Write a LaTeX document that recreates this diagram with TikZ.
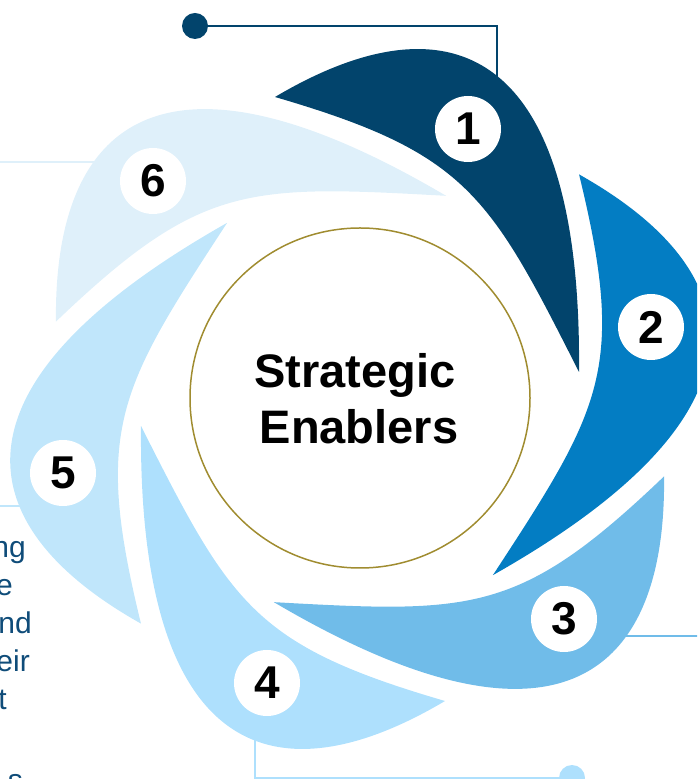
\documentclass[tikz,border=0pt]{standalone}
\usepackage{fontspec}
\setmainfont{Liberation Sans}

\definecolor{petalA}{HTML}{02446C}
\definecolor{petalB}{HTML}{037DC3}
\definecolor{petalC}{HTML}{70BCE9}
\definecolor{petalD}{HTML}{AEE0FD}
\definecolor{petalE}{HTML}{C0E6FB}
\definecolor{petalF}{HTML}{DFF0FA}
\definecolor{ring}{HTML}{A08C30}
\definecolor{sidetext}{HTML}{0F4C79}

\begin{document}
\begin{tikzpicture}[
    % 定義樣式
    x=1pt, y=1pt,
    num/.style={circle, fill=white, minimum size=66pt, inner sep=0pt,
        font=\fontsize{46}{46}\selectfont\bfseries},
    link/.style={line width=2.5pt},
    dot/.style={circle, minimum size=26pt, inner sep=0pt},
    title/.style={anchor=base, inner sep=0pt, font=\fontsize{47}{56}\selectfont\bfseries},
    side text/.style={anchor=base east, inner sep=0pt, text=sidetext,
        font=\fontsize{30}{30}\selectfont}
]

    \useasboundingbox (0,0) rectangle (697,779);
    \clip (0,0) rectangle (697,779);

    % 中心點
    \coordinate (C) at (360,380);

    % --- 1. 連接線 (Links) ---
    \node[dot, fill=petalA] (d1) at (195,753) {};
    \coordinate (e1) at (497,690);
    \draw[line width=2pt, petalA] (d1) -| (e1);

    \coordinate (e3) at (600,143);
    \coordinate (r3) at (700,143);
    \draw[link, petalC] (e3) -- (r3);

    \node[dot, fill=petalD] (d4) at (572,1) {};
    \coordinate (e4) at (255,60);
    \draw[link, petalD] (e4) |- (d4);

    \coordinate (l5) at (-5,273);
    \coordinate (e5) at (40,273);
    \draw[link, petalE] (l5) -- (e5);

    \coordinate (l6) at (-5,617);
    \coordinate (e6) at (120,617);
    \draw[link, petalF] (l6) -- (e6);

    % --- 2. 花瓣 (Petals) ---
    \foreach \i/\col in {1/petalA,2/petalB,3/petalC,4/petalD,5/petalE,6/petalF}
        \fill[\col, shift={(C)}, rotate=-60*(\i-1)]
            (-85,302) .. controls (87,404) and (222,357) .. (219,27)
            .. controls (129,205) and (107,246) .. cycle;

    % --- 3. 編號 (Numbers) ---
    \foreach \i/\x/\y in {1/468/650, 2/651/452, 3/564/160, 4/267/96, 5/63/306, 6/153/598}
        \node[num] (n\i) at (\x,\y) {\i};

    % --- 4. 中心圓 ---
    \node[circle, draw=ring, line width=1.5pt, minimum size=340pt, inner sep=0pt] (core) at (360,381) {};
    \node[title] (t1) at (355,391) {Strategic};
    \node[title] (t2) at (359,335) {Enablers};

    % --- 5. 左側文字 ---
    \foreach \t/\x/\y in {ng/26/221, e/13/183, nd/32/145, eir/30/107, t/7/69, s/23/-12}
        \node[side text] (txt-\t) at (\x,\y) {\t};

\end{tikzpicture}
\end{document}
